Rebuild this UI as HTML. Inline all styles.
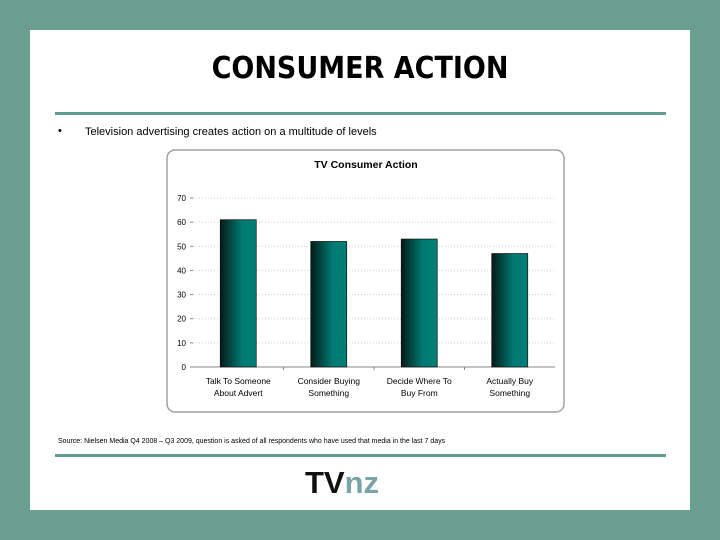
<!DOCTYPE html>
<html><head><meta charset="utf-8"><style>
body{margin:0;width:720px;height:540px;background:#6a9f90;position:relative;font-family:"Liberation Sans",sans-serif;overflow:hidden}
.panel{position:absolute;left:30px;top:30px;width:660px;height:480px;background:#fff}
.t{position:absolute;left:0;width:720px;top:51px;text-align:center;font-weight:bold;font-size:30px;color:#000;font-family:"DejaVu Sans Condensed","DejaVu Sans",sans-serif}
.rule{position:absolute;left:55px;width:611px;height:3px;background:#5f9e90}
</style></head><body>
<div class="panel"></div>
<div class="t">CONSUMER ACTION</div>
<div class="rule" style="top:112px"></div>
<div style="position:absolute;left:58px;top:125px;font-size:11px">•</div>
<div style="position:absolute;left:85px;top:126px;font-size:11px">Television advertising creates action on a multitude of levels</div>
<svg id="chart" style="position:absolute;left:0;top:0" width="720" height="540">
<defs><linearGradient id="g" x1="0" x2="1"><stop offset="0" stop-color="#061a18"/><stop offset="0.6" stop-color="#007a72"/><stop offset="1" stop-color="#007f77"/></linearGradient></defs>
<rect x="167" y="150" width="397" height="262" rx="8" fill="#fff" stroke="#a0a0a0" stroke-width="1.5"/>
<text x="366" y="168" text-anchor="middle" font-size="10.5" font-weight="bold" font-family="Liberation Sans, sans-serif">TV Consumer Action</text>
</svg>
<div style="position:absolute;left:58px;top:438px;font-size:7px">Source: Nielsen Media Q4 2008 – Q3 2009, question is asked of all respondents who have used that media in the last 7 days</div>
<div class="rule" style="top:454px"></div>
<div style="position:absolute;left:305px;top:465px;font-size:31px;font-weight:bold;letter-spacing:0px"><span style="color:#111">TV</span><span style="color:#7aa3aa">nz</span></div>
<script>
const categories=[["Talk To Someone","About Advert"],["Consider Buying","Something"],["Decide Where To","Buy From"],["Actually Buy","Something"]];
const values=[61,52,53,47];
const ticks=[0,10,20,30,40,50,60,70];
const svg=document.getElementById('chart');const NS='http://www.w3.org/2000/svg';
const x0=193,x1=555,y0=367,yTop=198,vmax=70;
const y=v=>y0-(v/vmax)*(y0-yTop);
const bw=(x1-x0)/categories.length;
function mk(t,a){const e=document.createElementNS(NS,t);for(const k in a)e.setAttribute(k,a[k]);svg.appendChild(e);return e;}
ticks.forEach(v=>{
 if(v>0){const l=mk('line',{x1:x0,x2:x1,y1:y(v),y2:y(v),stroke:'#ccc','stroke-dasharray':'1,2'});
 }
 const t=mk('text',{x:x0-7,y:y(v)+3,'text-anchor':'end','font-size':'8','font-family':'Liberation Sans, sans-serif'});t.textContent=v;
 
 const k=mk('line',{x1:x0-3,x2:x0,y1:y(v),y2:y(v),stroke:'#888'});
 
});
const ax=mk('line',{x1:x0,x2:x1,y1:y0,y2:y0,stroke:'#888'});

categories.forEach((c,i)=>{
 const cx=x0+bw*(i+0.5);
 const r=mk('rect',{x:cx-18,y:y(values[i]),width:36,height:y0-y(values[i]),fill:'url(#g)',stroke:'#111','stroke-width':'0.7'});
 
 if(i>0){const k=mk('line',{x1:x0+bw*i,x2:x0+bw*i,y1:y0,y2:y0+3,stroke:'#888'});}
 c.forEach((s,j)=>{const t=mk('text',{x:cx,y:y0+17+j*12,'text-anchor':'middle','font-size':'8.5','font-family':'Liberation Sans, sans-serif'});t.textContent=s;
 });
});
</script>
</body></html>
